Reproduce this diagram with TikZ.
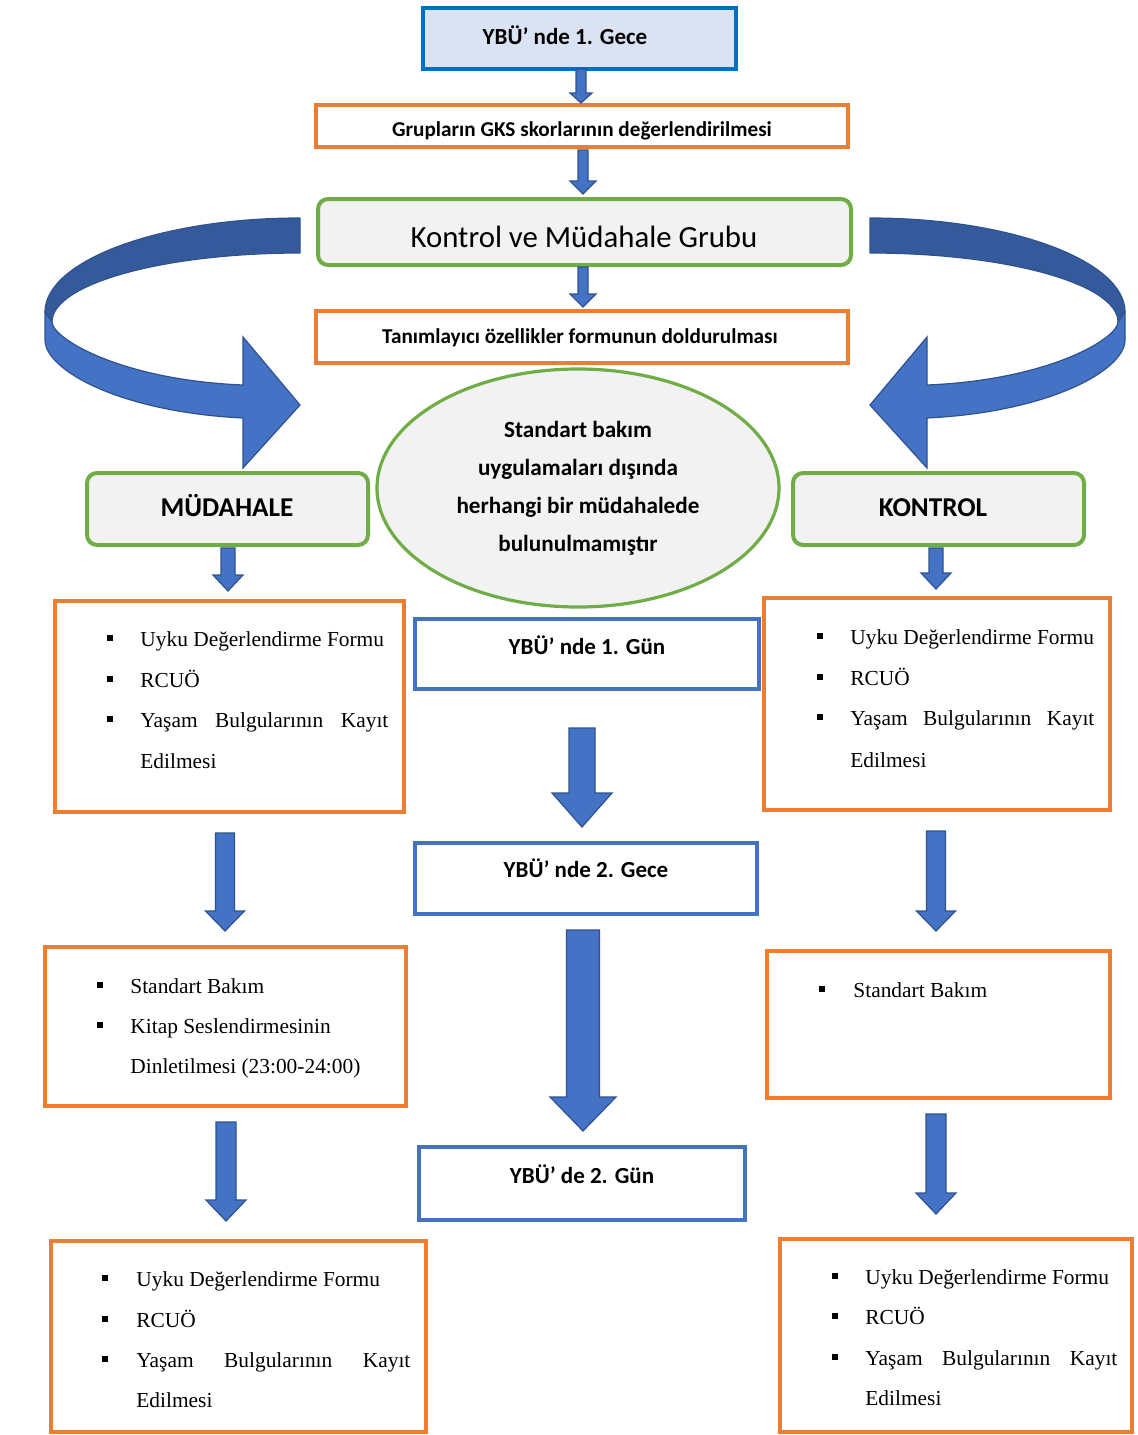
\documentclass[tikz,border=0pt]{standalone}
\usepackage{fontspec}
\setmainfont{Liberation Serif}
\newfontfamily\calib{Carlito}
\usetikzlibrary{shapes.geometric,calc}
\definecolor{oblue}{HTML}{4472C4}
\definecolor{odark}{HTML}{2F528F}
\definecolor{oback}{HTML}{355A9C}
\definecolor{oorange}{HTML}{ED7D31}
\definecolor{ogreen}{HTML}{70AD47}
\definecolor{ogray}{HTML}{F2F2F2}
\definecolor{olblue}{HTML}{DAE3F3}
\definecolor{otop}{HTML}{0070C0}
\tikzset{
  obox/.style={draw=oorange, line width=2pt, fill=white, inner sep=0pt},
  gbox/.style={draw=ogreen, line width=2pt, fill=ogray, rounded corners=5pt, inner sep=0pt},
  bbox/.style={draw=oblue, line width=2pt, fill=white, inner sep=0pt},
  topbox/.style={draw=otop, line width=2.2pt, fill=olblue, inner sep=0pt},
  barrow/.style={fill=oblue, draw=odark, line width=0.6pt, line join=miter},
  lbl/.style={anchor=base, inner sep=0pt},
  listtxt/.style={font=\fontsize{10.7}{13}\selectfont, anchor=base west, inner sep=0pt},
}
% box by outer corners (px)
\newcommand\rbox[6]{\node[#2, minimum width={(#5-#3)*0.5pt-2pt}, minimum height={(#6-#4)*0.5pt-2pt}] (#1) at ({(#3+#5)/2},{(#4+#6)/2}) {};}
% block arrow: cx, ytop, ytip, shaft half, head half, head length
\newcommand\barr[6]{\draw[barrow] ({#1-#4},#2) -- ({#1+#4},#2) -- ({#1+#4},{#3-#6}) -- ({#1+#5},{#3-#6}) -- (#1,#3) -- ({#1-#5},{#3-#6}) -- ({#1-#4},{#3-#6}) -- cycle;}
\newcommand\bul[2]{\fill ({#1-3},{#2-11}) rectangle ({#1+3},{#2-5});}
\newcommand\curvearrow{%
  \draw[fill=oback, draw=odark, line width=0.6pt, line join=round]
    (300,218) .. controls (159,218) and (45,261) .. (45,312)
    -- (52,322) .. controls (52,284) and (163,253) .. (300,253) -- cycle;
  \draw[fill=oblue, draw=odark, line width=0.6pt, line join=miter]
    (45,312) -- (45,340) .. controls (45,370) and (120,412) .. (243,418)
    -- (243,468) -- (300,405) -- (243,337) -- (243,385)
    .. controls (120,380) and (52,338) .. (52,322) -- cycle;
}
\begin{document}
\begin{tikzpicture}[x=0.5pt, y=-0.5pt]
\fill[white] (0,0) rectangle (1138,1435);
\useasboundingbox (0,0) rectangle (1138,1435);

% curved arrows
\curvearrow
\begin{scope}[xshift=585pt, xscale=-1]
\curvearrow
\end{scope}

% top column
\rbox{n1}{topbox}{421}{6}{738}{71}
\node[lbl, font=\calib\bfseries\fontsize{11.5}{13}\selectfont] (t1) at (565,44) {YBÜ’ nde 1. Gece};
\rbox{n2}{obox}{314}{103}{850}{149}
\node[lbl, font=\calib\bfseries\fontsize{10.6}{13}\selectfont] (t2) at (582,136) {Grupların GKS skorlarının değerlendirilmesi};
\rbox{n3}{gbox}{316}{197}{853}{267}
\node[lbl, font=\calib\fontsize{15.4}{18}\selectfont] (t3) at (584,247) {Kontrol ve Müdahale Grubu};
\rbox{n4}{obox}{314}{309}{850}{365}
\node[lbl, font=\calib\bfseries\fontsize{10.6}{13}\selectfont] (t4) at (580,343) {Tanımlayıcı özellikler formunun doldurulması};

\barr{581}{69}{103}{5}{11}{10}
\barr{583}{150}{194}{5}{13}{13}
\barr{583}{267}{307}{5}{13}{13}

% ellipse
\node[ellipse, draw=ogreen, line width=1.6pt, fill=ogray, minimum width=201pt, minimum height=119pt, inner sep=0pt,
      align=center, font=\calib\bfseries\fontsize{11.6}{19}\selectfont] (n5) at (578,488)
  {Standart bakım\\uygulamaları dışında\\herhangi bir müdahalede\\bulunulmamıştır};

% group boxes
\rbox{n6}{gbox}{85}{471}{370}{547}
\node[lbl, font=\calib\bfseries\fontsize{13.6}{16}\selectfont] (t6) at (227,516) {MÜDAHALE};
\rbox{n7}{gbox}{791}{471}{1086}{547}
\node[lbl, font=\calib\bfseries\fontsize{13.6}{16}\selectfont] (t7) at (933,516) {KONTROL};

\barr{228}{548}{591}{7}{15}{16}
\barr{936}{548}{589}{7}{15}{16}

% middle column
\rbox{m1}{bbox}{413}{617}{761}{691}
\node[lbl, font=\calib\bfseries\fontsize{11.5}{13}\selectfont] (tm1) at (587,654) {YBÜ’ nde 1. Gün};
\rbox{m2}{bbox}{413}{841}{759}{916}
\node[lbl, font=\calib\bfseries\fontsize{11.5}{13}\selectfont] (tm2) at (586,877) {YBÜ’ nde 2. Gece};
\rbox{m3}{bbox}{417}{1145}{747}{1222}
\node[lbl, font=\calib\bfseries\fontsize{11.5}{13}\selectfont] (tm3) at (582,1183) {YBÜ’ de 2. Gün};
\barr{582}{728}{827}{13}{30}{34}
\barr{583}{930}{1131}{16.5}{33}{34}

% left column
\rbox{l1}{obox}{53}{599}{406}{814}
\bul{110}{646}\node[listtxt] (l1a) at (140,646) {Uyku Değerlendirme Formu};
\bul{110}{687}\node[listtxt] (l1b) at (140,687) {RCUÖ};
\bul{110}{727}\node[listtxt] (l1c) at (140,727) {\makebox[124pt][s]{Yaşam Bulgularının Kayıt}};
\node[listtxt] (l1d) at (140,768) {Edilmesi};
\barr{225}{833}{931}{9.5}{19.5}{20}
\rbox{l2}{obox}{43}{945}{408}{1108}
\bul{100}{993}\node[listtxt] (l2a) at (130,993) {Standart Bakım};
\bul{100}{1033}\node[listtxt] (l2b) at (130,1033) {Kitap Seslendirmesinin};
\node[listtxt] (l2c) at (130,1073) {Dinletilmesi (23:00-24:00)};
\barr{226}{1122}{1221}{10}{20}{21}
\rbox{l3}{obox}{49}{1239}{428}{1434}
\bul{105}{1286}\node[listtxt] (l3a) at (136,1286) {Uyku Değerlendirme Formu};
\bul{105}{1327}\node[listtxt] (l3b) at (136,1327) {RCUÖ};
\bul{105}{1367}\node[listtxt] (l3c) at (136,1367) {\makebox[137pt][s]{Yaşam Bulgularının Kayıt}};
\node[listtxt] (l3d) at (136,1407) {Edilmesi};

% right column
\rbox{r1}{obox}{762}{596}{1112}{812}
\bul{820}{644}\node[listtxt] (r1a) at (850,644) {Uyku Değerlendirme Formu};
\bul{820}{685}\node[listtxt] (r1b) at (850,685) {RCUÖ};
\bul{820}{725}\node[listtxt] (r1c) at (850,725) {\makebox[122pt][s]{Yaşam Bulgularının Kayıt}};
\node[listtxt] (r1d) at (850,767) {Edilmesi};
\barr{936}{831}{931}{9.5}{19.5}{20}
\rbox{r2}{obox}{765}{949}{1112}{1100}
\bul{822}{997}\node[listtxt] (r2a) at (853,997) {Standart Bakım};
\barr{936}{1114}{1214}{10}{20}{21}
\rbox{r3}{obox}{778}{1237}{1134}{1434}
\bul{835}{1284}\node[listtxt] (r3a) at (865,1284) {Uyku Değerlendirme Formu};
\bul{835}{1324}\node[listtxt] (r3b) at (865,1324) {RCUÖ};
\bul{835}{1365}\node[listtxt] (r3c) at (865,1365) {\makebox[126pt][s]{Yaşam Bulgularının Kayıt}};
\node[listtxt] (r3d) at (865,1405) {Edilmesi};
\end{tikzpicture}
\end{document}
